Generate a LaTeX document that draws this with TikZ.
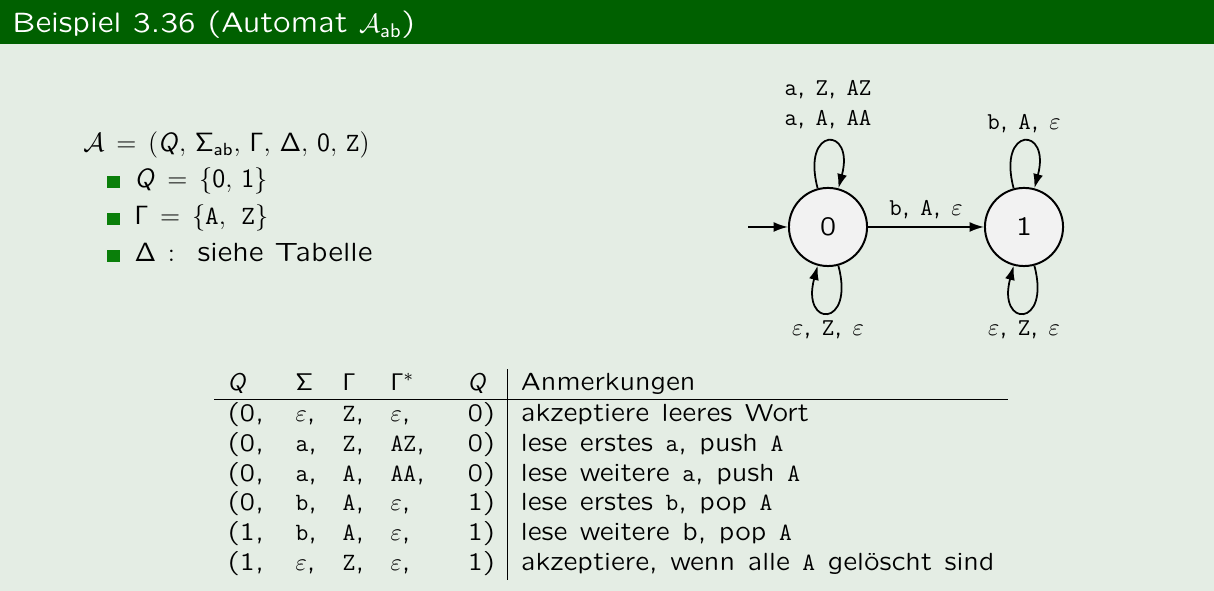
\documentclass[tikz,border=0pt]{standalone}
\usepackage[no-math]{fontspec}
\setmainfont{lmsansquot8}[Extension=.otf, UprightFont=*-regular, BoldFont=*-bold, ItalicFont=*-oblique, BoldItalicFont=*-boldoblique]
\usepackage{xcolor}
\definecolor{headgreen}{HTML}{006000}
\definecolor{bodygreen}{HTML}{E4EDE4}
\definecolor{bulletgreen}{HTML}{0A7F0A}
\definecolor{statefill}{HTML}{F2F2F2}
\usetikzlibrary{arrows.meta,positioning}
\DeclareMathAlphabet{\mathsfup}{OT1}{cmss}{m}{n}
\DeclareMathAlphabet{\mathsfit}{OT1}{cmss}{m}{sl}
\newcommand{\sqbullet}{\textcolor{bulletgreen}{\rule{5.5pt}{5.5pt}}\hspace{6.8pt}}
\newcommand{\itemfont}{\fontsize{12}{14.5}\selectfont\thickmuskip=8mu plus 2mu\relax}
\newcommand{\tabfont}{\fontsize{11.3}{13.6}\selectfont\spaceskip=5.7pt plus 1pt minus 1pt\relax}
\tikzset{
  every picture/.style={x=0.4545pt, y=0.4545pt, font=\fontsize{11}{13.6}\selectfont},
  >={Latex[length=6.5pt,width=4.5pt]},
  zustand/.style={circle, draw=black, line width=0.9pt, fill=statefill, minimum size=35.5pt, inner sep=0pt, font=\fontsize{12}{14.5}\selectfont},
  arrow/.style={->, draw=black, line width=0.8pt},
  every loop/.style={},
  itemtext/.style={anchor=base west, inner sep=0pt, font=\itemfont},
}

\begin{document}
\begin{tikzpicture}
  \useasboundingbox (0,0) rectangle (1214,591);
  \fill[bodygreen] (0,0) rectangle (1214,547);
  \fill[headgreen] (0,547) rectangle (1214,591);
  \node[itemtext, text=white, font=\fontsize{12.8}{15}\selectfont] (title) at (12,558) {Beispiel 3.36 (Automat $\mathcal{A}_{\mathsfup{ab}}$)};

  % Definition
  \node[itemtext] (tupel) at (83,439) {$\mathcal{A} = (\mathsfit{Q},\, \mathsfup{\Sigma}_{\mathsfup{ab}},\, \mathsfup{\Gamma},\, \mathsfup{\Delta},\, \mathsfup{0},\, \mathtt{Z})$};
  \node[itemtext] (iq) at (107,403) {\sqbullet$\mathsfit{Q} = \{\mathsfup{0},\, \mathsfup{1}\}$};
  \node[itemtext] (ig) at (107,366) {\sqbullet$\mathsfup{\Gamma} = \{\mathtt{A},\ \mathtt{Z}\}$};
  \node[itemtext] (id) at (107,329) {\sqbullet$\mathsfup{\Delta} :\;$ siehe Tabelle};

  % Automat
  \node[zustand] (s0) at (828,364) {0};
  \node[zustand] (s1) at (1024,364) {1};
  \coordinate (init) at (748,364);
  \draw[arrow] (init) -- (s0);
  \draw[arrow] (s0) edge node[above] (l01) {\texttt{b}, \texttt{A}, $\varepsilon$} (s1)
    (s0) edge[loop above] node[above=2pt, align=center] (l0a) {\texttt{a}, \texttt{Z}, \texttt{AZ}\\\texttt{a}, \texttt{A}, \texttt{AA}} (s0)
    (s0) edge[loop below] node[below] (l0b) {$\varepsilon$, \texttt{Z}, $\varepsilon$} (s0)
    (s1) edge[loop above] node[above] (l1a) {\texttt{b}, \texttt{A}, $\varepsilon$} (s1)
    (s1) edge[loop below] node[below] (l1b) {$\varepsilon$, \texttt{Z}, $\varepsilon$} (s1);

  % Tabelle
  \node[anchor=north west, inner sep=0pt, font=\tabfont] (tab) at (214,222) {%
    \begin{tabular}{p{18.9pt}p{9.4pt}p{9.8pt}p{23pt}p{12.2pt}|l}
      $\mathsfit{Q}$ & $\mathsfup{\Sigma}$ & $\mathsfup{\Gamma}$ & $\mathsfup{\Gamma}^*$ & $\mathsfit{Q}$ & Anmerkungen\\ \hline
      (0, & $\varepsilon$, & \texttt{Z}, & $\varepsilon$, & 0) & akzeptiere leeres Wort\\
      (0, & \texttt{a}, & \texttt{Z}, & \texttt{AZ}, & 0) & lese erstes \texttt{a}, push \texttt{A}\\
      (0, & \texttt{a}, & \texttt{A}, & \texttt{AA}, & 0) & lese weitere \texttt{a}, push \texttt{A}\\
      (0, & \texttt{b}, & \texttt{A}, & $\varepsilon$, & 1) & lese erstes \texttt{b}, pop \texttt{A}\\
      (1, & \texttt{b}, & \texttt{A}, & $\varepsilon$, & 1) & lese weitere b, pop \texttt{A}\\
      (1, & $\varepsilon$, & \texttt{Z}, & $\varepsilon$, & 1) & akzeptiere, wenn alle \texttt{A} gelöscht sind
    \end{tabular}};
\end{tikzpicture}
\end{document}
